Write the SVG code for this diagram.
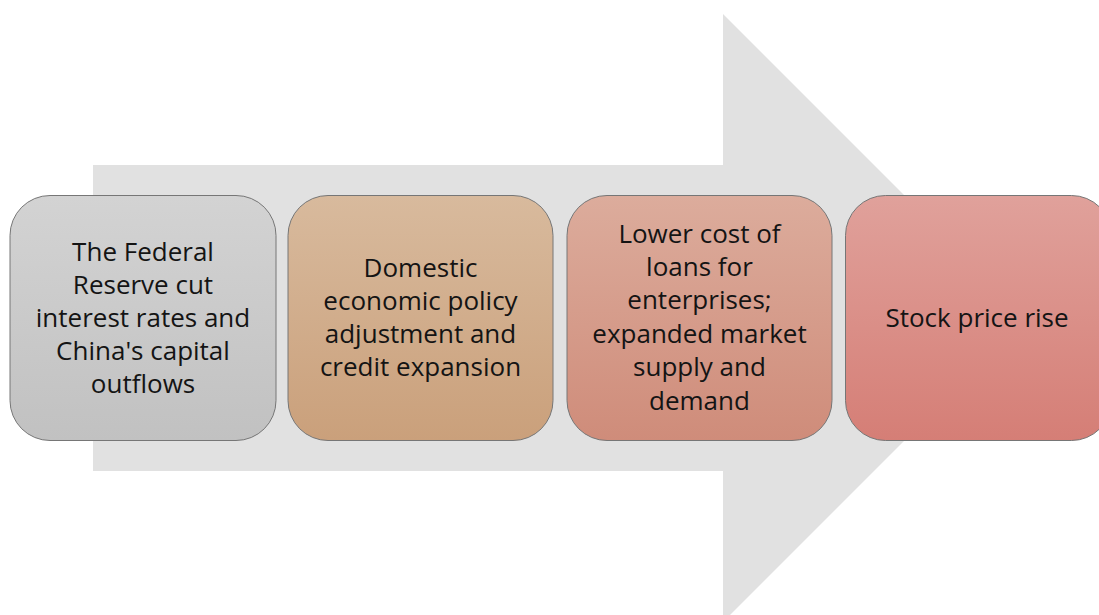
<svg xmlns="http://www.w3.org/2000/svg" width="1099" height="615" viewBox="0 0 1099 615">
<style>
.box{stroke:#767676;stroke-width:1}
.t{font-family:"Open Sans","Liberation Sans",sans-serif;font-size:26px;fill:#141414;text-anchor:middle}
</style>
<defs>
<linearGradient id="g1" x1="0" y1="0" x2="0" y2="1"><stop offset="0" stop-color="#d3d3d3"/><stop offset="1" stop-color="#c1c1c1"/></linearGradient>
<linearGradient id="g2" x1="0" y1="0" x2="0" y2="1"><stop offset="0" stop-color="#d8ba9d"/><stop offset="1" stop-color="#caa07b"/></linearGradient>
<linearGradient id="g3" x1="0" y1="0" x2="0" y2="1"><stop offset="0" stop-color="#dcac9c"/><stop offset="1" stop-color="#cf8c7a"/></linearGradient>
<linearGradient id="g4" x1="0" y1="0" x2="0" y2="1"><stop offset="0" stop-color="#e0a19b"/><stop offset="1" stop-color="#d57e76"/></linearGradient>
</defs>
<rect width="1099" height="615" fill="#ffffff"/>
<g id="arrow">
<polygon points="93,165 723,165 723,14 1027,318 723,622 723,471 93,471" fill="#e1e1e1"/>
</g>
<g id="node1">
<rect class="box" x="10" y="195.5" width="266" height="245" rx="40" fill="url(#g1)"/>
<text class="t"><tspan x="143" y="261">The Federal</tspan><tspan x="143" y="294">Reserve cut</tspan><tspan x="143" y="327">interest rates and</tspan><tspan x="143" y="360">China's capital</tspan><tspan x="143" y="393">outflows</tspan></text>
</g>
<g id="node2">
<rect class="box" x="288" y="195.5" width="265" height="245" rx="40" fill="url(#g2)"/>
<text class="t"><tspan x="420.5" y="277">Domestic</tspan><tspan x="420.5" y="310">economic policy</tspan><tspan x="420.5" y="343">adjustment and</tspan><tspan x="420.5" y="376">credit expansion</tspan></text>
</g>
<g id="node3">
<rect class="box" x="567" y="195.5" width="265" height="245" rx="40" fill="url(#g3)"/>
<text class="t"><tspan x="699.5" y="243">Lower cost of</tspan><tspan x="699.5" y="276">loans for</tspan><tspan x="699.5" y="309">enterprises;</tspan><tspan x="699.5" y="343">expanded market</tspan><tspan x="699.5" y="376">supply and</tspan><tspan x="699.5" y="410">demand</tspan></text>
</g>
<g id="node4">
<rect class="box" x="845.5" y="195.5" width="266" height="245" rx="40" fill="url(#g4)"/>
<text class="t"><tspan x="977" y="327">Stock price rise</tspan></text>
</g>
<g id="connectors"></g>
</svg>
